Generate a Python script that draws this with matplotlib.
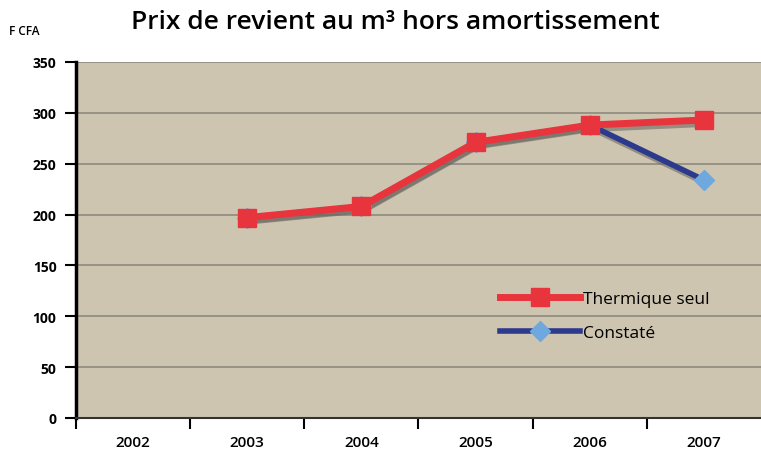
import numpy as np
import matplotlib.pyplot as plt
import matplotlib.transforms as mtransforms

# Années et prix de revient (F CFA par m3)
annees = ['2002', '2003', '2004', '2005', '2006', '2007']
thermique = [np.nan, 197, 208, 271, 288, 293]
constate = [np.nan, 197, 208, 271, 288, 234]
yticks = [0, 50, 100, 150, 200, 250, 300, 350]

plt.rcParams['font.family'] = ['Open Sans', 'DejaVu Sans']

fig = plt.figure(figsize=(7.61, 4.52), dpi=100)
ax = fig.add_axes([76 / 761, 33 / 452, 1 - 76 / 761, 356 / 452])
ax.set_facecolor('#CEC5B1')

x = np.arange(len(annees))

# ombre grise sous les courbes
ombre = mtransforms.offset_copy(ax.transData, fig=fig, x=1.5, y=-2.5, units='points')
ax.plot(x, constate, color='#6E6A63', lw=4, alpha=0.6, transform=ombre, zorder=2)
ax.plot(x, thermique, color='#6E6A63', lw=5, alpha=0.6, transform=ombre, zorder=2)

ax.plot(x, constate, color='#2B3A8C', lw=4, marker='D', ms=10,
        mfc='#6FA8DC', mec='#6FA8DC', label='Constaté', zorder=3)
ax.plot(x, thermique, color='#E8343C', lw=5, marker='s', ms=13,
        mfc='#E8343C', mec='#E8343C', label='Thermique seul', zorder=4)

ax.set_ylim(0, 350)
ax.set_yticks(yticks)
ax.set_yticklabels([str(v) for v in yticks], fontsize=10, fontweight='bold')
ax.yaxis.grid(True, color='#8E897F', lw=1.2)
ax.set_axisbelow(True)

ax.set_xlim(-0.5, len(annees) - 0.5)
ax.set_xticks(x)
ax.set_xticklabels(annees, fontsize=11, fontweight='semibold')
ax.set_xticks(np.arange(len(annees)) - 0.5, minor=True)
ax.tick_params(axis='x', which='major', length=0, pad=12)
ax.tick_params(axis='x', which='minor', length=8, width=1.5, color='black')
ax.tick_params(axis='y', length=8, width=1.5, pad=6)

for s in ['top', 'right']:
    ax.spines[s].set_visible(False)
ax.spines['left'].set_linewidth(2.5)
ax.spines['bottom'].set_linewidth(1.5)
ax.spines['bottom'].set_color('#333333')

handles, labels = ax.get_legend_handles_labels()
ax.legend(handles[::-1], labels[::-1], loc='upper left', bbox_to_anchor=(0.619, 0.357),
          frameon=False, fontsize=12.5, handlelength=4.6, handletextpad=0.2,
          labelspacing=1.05, borderpad=0, borderaxespad=0)

fig.text(0.52, 0.95, 'Prix de revient au m³ hors amortissement', ha='center', va='center',
         fontsize=19, fontweight='semibold')
fig.text(0.012, 0.93, 'F CFA', ha='left', va='center', fontsize=8.5, fontweight='semibold')

fig.savefig('out.png', dpi=100)
